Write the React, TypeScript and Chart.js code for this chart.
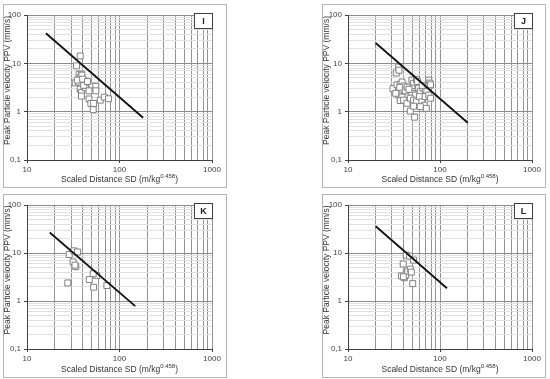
import React, { useEffect, useRef } from "react";
import { Chart, registerables } from "chart.js";
Chart.register(...registerables);

// ---- data ----
const iSD = [37.6, 34.3, 36.6, 38.8, 33.2, 36, 37.6, 39.2, 41.5, 43, 44, 37.6, 38.8, 38.8, 43, 50.3, 55.5, 55.5, 46.8, 46.8, 49, 52.5, 52, 62, 68.5, 76, 41, 35, 40, 45];
const iPPV = [14.2, 8.85, 5.96, 5.96, 3.95, 4.1, 5.08, 5.7, 4.3, 3.8, 4.0, 2.92, 2.5, 2.1, 3.1, 3.36, 3.36, 2.7, 2.7, 1.83, 1.48, 1.48, 1.1, 1.73, 2.0, 1.85, 3.5, 4.5, 4.7, 4.2];
const iLineSD = [16, 180];
const iLinePPV = [42, 0.75];

const jSD = [35.5, 33.5, 35.8, 30.8, 34.1, 37, 38.7, 40.5, 35.5, 38.5, 41.9, 35.5, 38.6, 37, 40.2, 43.7, 49.5, 51.7, 55.4, 49.5, 52.6, 49.5, 54, 47.5, 51.7, 55.4, 47.5, 51.7, 53, 58.6, 61, 60, 65, 69, 63.5, 67.5, 71, 61, 75.5, 77.5, 75.5, 79, 72, 69, 75.5, 33, 44, 46, 57, 64, 79, 36.5];
const jPPV = [8.4, 6.3, 7.2, 3.0, 3.6, 3.7, 4.1, 3.4, 2.7, 2.5, 2.7, 2.2, 2.0, 1.7, 1.73, 1.49, 4.5, 3.87, 4.6, 3.07, 2.6, 2.4, 2.2, 1.9, 1.73, 1.6, 1.03, 1.3, 0.77, 3.07, 2.6, 2.05, 3.07, 2.85, 1.6, 1.36, 1.17, 1.27, 4.5, 3.9, 3.3, 3.6, 2.6, 2.05, 2.2, 2.4, 3.2, 2.9, 4.2, 3.5, 1.9, 3.2];
const jLineSD = [20, 200];
const jLinePPV = [26.4, 0.59];

const kSD = [27.6, 28.6, 32.1, 35.1, 31.5, 33.7, 33, 47.1, 52.5, 56.6, 52, 73];
const kPPV = [2.38, 9.3, 11.1, 10.5, 6.5, 5.2, 5.6, 2.8, 1.94, 3.4, 3.7, 2.1];
const kLineSD = [17.6, 148];
const kLinePPV = [26.7, 0.78];

const lSD = [43, 46.7, 51.7, 39.8, 38, 41, 42.4, 44.5, 47.5, 48.8, 50.5, 40];
const lPPV = [9.0, 8.6, 7.1, 5.9, 3.33, 3.05, 3.5, 4.2, 4.6, 4.0, 2.3, 3.2];
const lLineSD = [20, 119];
const lLinePPV = [36, 1.84];

const yTickValues = [0.1, 1, 10, 100];
const yTickText = ["0,1", "1", "10", "100"];
const xTickValues = [10, 100, 1000];
const xTickText = ["10", "100", "1000"];
const yTitle = "Peak Particle velocity PPV (mm/s)";
const xTitleMain = "Scaled Distance SD (m/kg";
const xTitleSup = "0.458";
const xTitleEnd = ")";

const FONT = '"Liberation Sans", Arial, sans-serif';

function gridValues(decades: number[]) {
  const out: number[] = [];
  for (let d = 0; d < decades.length - 1; d++) {
    for (let m = 1; m <= 9; m++) out.push(+(decades[d] * m).toPrecision(6));
  }
  out.push(decades[decades.length - 1]);
  return out;
}
const isDecade = (v: number) => Math.abs(Math.log10(v) - Math.round(Math.log10(v))) < 1e-6;

const decor = {
  id: "decor",
  afterDraw(chart: any, _args: any, opts: any) {
    const { ctx, chartArea: a } = chart;
    ctx.save();
    ctx.fillStyle = "#333";
    ctx.font = `8.5px ${FONT}`;
    ctx.translate(opts.yTitleX, (a.top + a.bottom) / 2 - 7);
    ctx.rotate(-Math.PI / 2);
    ctx.textAlign = "center";
    ctx.textBaseline = "middle";
    ctx.fillText(yTitle, 0, 0);
    ctx.restore();

    ctx.save();
    ctx.fillStyle = "#333";
    ctx.textBaseline = "alphabetic";
    ctx.textAlign = "left";
    const mainFont = `8.5px ${FONT}`;
    const supFont = `6px ${FONT}`;
    ctx.font = mainFont;
    const w1 = ctx.measureText(xTitleMain).width;
    const w3 = ctx.measureText(xTitleEnd).width;
    ctx.font = supFont;
    const w2 = ctx.measureText(xTitleSup).width;
    const total = w1 + w2 + w3;
    let x = (a.left + a.right) / 2 - total / 2;
    const y = opts.xTitleY;
    ctx.font = mainFont;
    ctx.fillText(xTitleMain, x, y);
    x += w1;
    ctx.font = supFont;
    ctx.fillText(xTitleSup, x, y - 4);
    x += w2;
    ctx.font = mainFont;
    ctx.fillText(xTitleEnd, x, y);
    ctx.restore();

    ctx.save();
    const bx = Math.round(a.right) - 18 + 0.5;
    const by = Math.round(a.top) - 2 + 0.5;
    ctx.fillStyle = "#fff";
    ctx.fillRect(bx, by, 18, 15);
    ctx.strokeStyle = "#404040";
    ctx.lineWidth = 1;
    ctx.strokeRect(bx, by, 18, 15);
    ctx.fillStyle = "#222";
    ctx.font = `bold 9px ${FONT}`;
    ctx.textAlign = "center";
    ctx.textBaseline = "middle";
    ctx.fillText(opts.label, bx + 9, by + 8);
    ctx.restore();
  },
};

type PanelProps = {
  left: number; top: number; label: string;
  sd: number[]; ppv: number[]; lineSD: number[]; linePPV: number[];
  yAxisW: number; padRight: number; xAxisH: number;
};

function Panel(p: PanelProps) {
  const ref = useRef<HTMLCanvasElement>(null);
  useEffect(() => {
    const yGrid = gridValues(yTickValues);
    const xGrid = gridValues(xTickValues);
    const chart = new Chart(ref.current as HTMLCanvasElement, {
      type: "scatter",
      data: {
        datasets: [
          {
            data: p.lineSD.map((v, i) => ({ x: v, y: p.linePPV[i] })),
            showLine: true,
            borderColor: "#111",
            borderWidth: 1.8,
            pointRadius: 0,
          },
          {
            data: p.sd.map((v, i) => ({ x: v, y: p.ppv[i] })),
            pointStyle: "rect",
            pointRadius: 4.2,
            backgroundColor: "#fff",
            borderColor: "#808080",
            borderWidth: 1,
          },
        ],
      },
      options: {
        animation: false,
        responsive: false,
        devicePixelRatio: 1,
        layout: { padding: { top: 10, right: p.padRight, left: 0, bottom: 0 } },
        plugins: {
          legend: { display: false },
          tooltip: { enabled: false },
          decor: { label: p.label, yTitleX: 3.5, xTitleY: 177 },
        } as any,
        scales: {
          x: {
            type: "logarithmic",
            min: 10,
            max: 1000,
            afterBuildTicks: (axis: any) => {
              axis.ticks = xGrid.map((v) => ({ value: v, major: isDecade(v) }));
            },
            afterFit: (axis: any) => { axis.height = p.xAxisH; },
            grid: {
              color: "#939393",
              lineWidth: 1,
              tickLength: 3,
              tickColor: (c: any) => (c.tick && isDecade(c.tick.value) ? "#404040" : "rgba(0,0,0,0)"),
            },
            border: { color: "#404040", width: 1 },
            ticks: {
              autoSkip: false,
              maxRotation: 0,
              padding: 2,
              color: "#444",
              font: { family: FONT, size: 8 },
              callback: (v: any) => {
                const i = xTickValues.indexOf(Number(v));
                return i >= 0 ? xTickText[i] : "";
              },
            },
          },
          y: {
            type: "logarithmic",
            min: 0.1,
            max: 100,
            afterBuildTicks: (axis: any) => {
              axis.ticks = yGrid.map((v) => ({ value: v, major: isDecade(v) }));
            },
            afterFit: (axis: any) => { axis.width = p.yAxisW; },
            grid: {
              color: (c: any) => (c.tick && isDecade(c.tick.value) ? "#8c8c8c" : "#e0e0e0"),
              lineWidth: 1,
              tickLength: 3,
              tickColor: (c: any) => (c.tick && isDecade(c.tick.value) ? "#404040" : "rgba(0,0,0,0)"),
            },
            border: { color: "#404040", width: 1 },
            ticks: {
              autoSkip: false,
              padding: 3,
              color: "#444",
              font: { family: FONT, size: 8 },
              callback: (v: any) => {
                const i = yTickValues.findIndex((t) => Math.abs(t - Number(v)) < 1e-9);
                return i >= 0 ? yTickText[i] : "";
              },
            },
          },
        },
      },
      plugins: [decor],
    } as any);
    return () => chart.destroy();
  }, []);
  return (
    <div
      style={{
        position: "absolute",
        left: p.left,
        top: p.top,
        width: 224,
        height: 184,
        boxSizing: "border-box",
        border: "1px solid #b4b4b4",
        background: "#fff",
      }}
    >
      <canvas ref={ref} width={222} height={182} style={{ position: "absolute", left: 0, top: 0, width: 222, height: 182 }} />
    </div>
  );
}

export default function App() {
  return (
    <div style={{ position: "absolute", left: 0, top: 0, width: 550, height: 379, background: "#fff" }}>
      <Panel left={3} top={4} label="I" sd={iSD} ppv={iPPV} lineSD={iLineSD} linePPV={iLinePPV} yAxisW={23} padRight={14} xAxisH={27} />
      <Panel left={322} top={4} label="J" sd={jSD} ppv={jPPV} lineSD={jLineSD} linePPV={jLinePPV} yAxisW={25} padRight={13} xAxisH={27} />
      <Panel left={3} top={194} label="K" sd={kSD} ppv={kPPV} lineSD={kLineSD} linePPV={kLinePPV} yAxisW={23} padRight={14} xAxisH={28} />
      <Panel left={322} top={194} label="L" sd={lSD} ppv={lPPV} lineSD={lLineSD} linePPV={lLinePPV} yAxisW={25} padRight={13} xAxisH={28} />
    </div>
  );
}
